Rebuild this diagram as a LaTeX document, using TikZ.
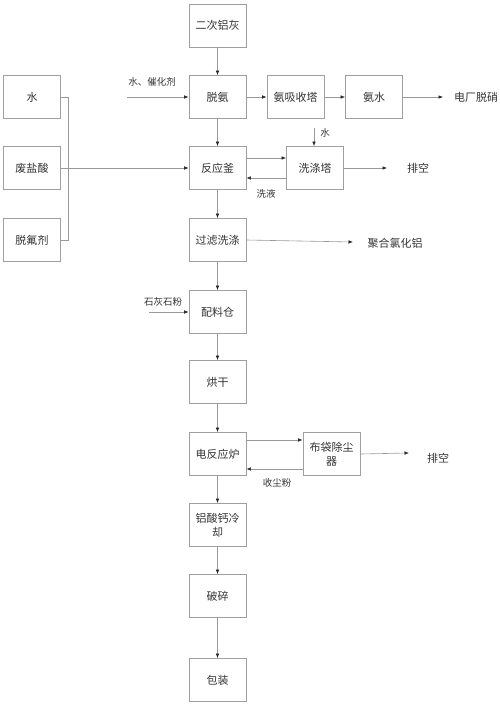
\documentclass[tikz,border=0pt]{standalone}
\usepackage{fontspec}
\newfontfamily\cjk{Noto Sans CJK SC}
\usetikzlibrary{arrows.meta}

\begin{document}
\begin{tikzpicture}[x=1pt,y=-1pt]
      \tikzset{box/.style={draw=gray!75,line width=0.7pt,minimum width=57pt,minimum height=43pt,inner sep=1pt,align=center,font=\cjk\fontsize{11}{14}\selectfont,text=black!80},
        lbl/.style={inner sep=0pt,font=\cjk\fontsize{9.5}{11}\selectfont,text=black!80},
        prod/.style={inner sep=0pt,font=\cjk\fontsize{11}{13}\selectfont,text=black!80},
        flow/.style={draw=gray!80,line width=0.6pt,-{Latex[length=4.5pt,width=3.5pt,color=black!85]}}}
      \useasboundingbox (0,0) rectangle (500,706);

      % main column
      \foreach \n/\y/\t in{ash/25.5/二次铝灰,deam/97/脱氨,reactor/168/反应釜,filter/240/过滤洗涤,batch/312/配料仓,dry/382/烘干,furnace/454/电反应炉,cool/525/铝酸钙冷\\却,crush/596/破碎,pack/680/包装}
        \node[box] (\n) at (217.5,\y) {\t};

      % side boxes
      \node[box] (absorb) at (295.5,97) {氨吸收塔};
      \node[box] (ammw) at (374,97) {氨水};
      \node[box] (water) at (32,97) {水};
      \node[box] (hcl) at (32,168) {废盐酸};
      \node[box] (defl) at (32,240) {脱氟剂};
      \node[box] (wash) at (315,168) {洗涤塔};
      \node[box] (bag) at (331.5,454) {布袋除尘\\器};

      % texts
      \node[prod] (power) at (476,97) {电厂脱硝};
      \node[prod] (vent1) at (418,168) {排空};
      \node[prod] (pac) at (395,243) {聚合氯化铝};
      \node[prod] (vent2) at (438,458) {排空};
      \node[lbl] (cat) at (152,82) {水、催化剂};
      \node[lbl] (lime) at (163,302) {石灰石粉};
      \node[lbl] (wliq) at (266,194) {洗液};
      \node[lbl] (dust) at (277,483) {收尘粉};
      \node[lbl] (wtop) at (325,133) {水};

      \coordinate (catin) at (127,97);
      \coordinate (limein) at (149,312);
      \coordinate (wtopin) at (314,128);
      \coordinate (powerin) at (443,97);
      \coordinate (vent1in) at (387,168);
      \coordinate (pacin) at (353,242);
      \coordinate (vent2in) at (409,453);
      \coordinate (bt) at (68,97);
      \coordinate (bb) at (68,240);

      % main flow
      \foreach \a/\b in{ash/deam,deam/reactor,reactor/filter,filter/batch,batch/dry,dry/furnace,furnace/cool,cool/crush,crush/pack}
        \draw[flow] (\a) -- (\b);

      \draw[flow] (deam) -- (absorb);
      \draw[flow] (absorb) -- (ammw);
      \draw[flow] (ammw) -- (powerin);
      \draw[flow] (catin) -- (deam);

      \draw[draw=gray!80,line width=0.6pt] (water.east) -- (bt) -- (bb) -- (defl.east);
      \draw[flow] (hcl) -- (reactor);

      \draw[flow] ([yshift=10pt]reactor.east) -- ([yshift=10pt]wash.west);
      \draw[flow] ([yshift=-10pt]wash.west) -- ([yshift=-10pt]reactor.east);
      \draw[flow] (wtopin) -- (wtopin |- wash.north);
      \draw[flow] (wash) -- (vent1in);
      \draw[flow] (filter.east) -- (pacin);
      \draw[flow] (limein) -- (limein -| batch.west);

      \draw[flow] ([yshift=14pt]furnace.east) -- ([yshift=14pt]bag.west);
      \draw[flow] ([yshift=-15pt]bag.west) -- ([yshift=-15pt]furnace.east);
      \draw[flow] (bag.east) -- (vent2in);

\end{tikzpicture}
\end{document}
